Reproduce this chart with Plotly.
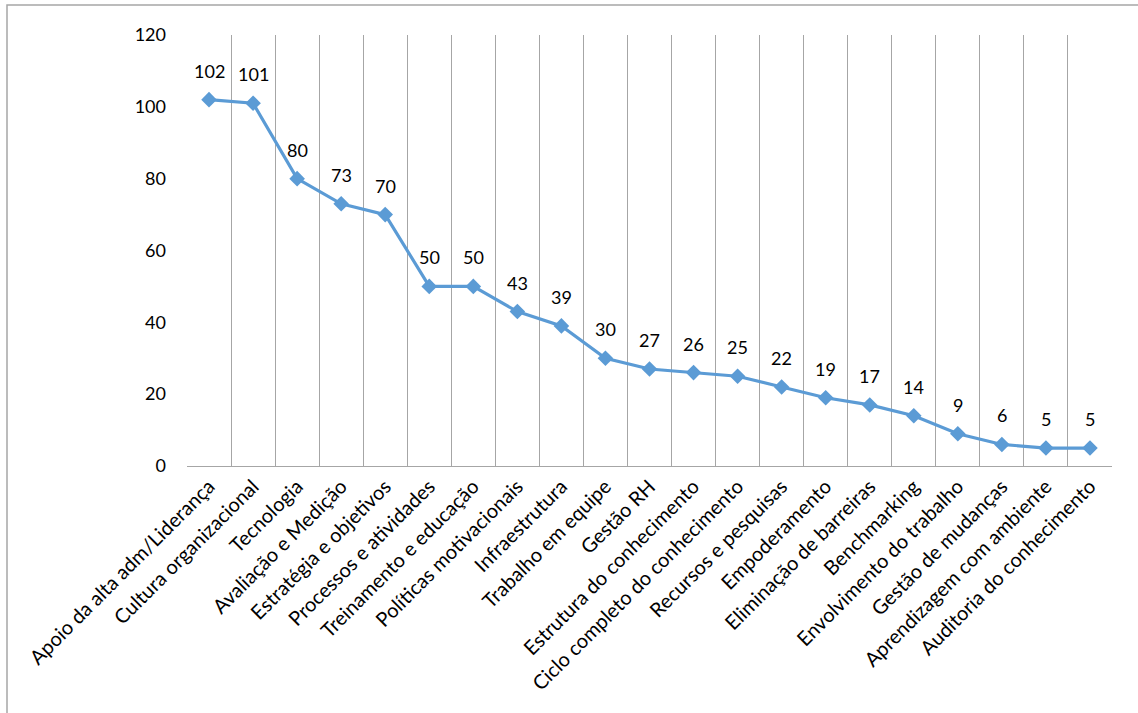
import plotly.graph_objects as go

categories = [
    "Apoio da alta adm/Liderança", "Cultura organizacional", "Tecnologia",
    "Avaliação e Medição", "Estratégia e objetivos", "Processos e atividades",
    "Treinamento e educação", "Políticas motivacionais", "Infraestrutura",
    "Trabalho em equipe", "Gestão RH", "Estrutura do conhecimento",
    "Ciclo completo do conhecimento", "Recursos e pesquisas", "Empoderamento",
    "Eliminação de barreiras", "Benchmarking", "Envolvimento do trabalho",
    "Gestão de mudanças", "Aprendizagem com ambiente", "Auditoria do conhecimento",
]
values = [102, 101, 80, 73, 70, 50, 50, 43, 39, 30, 27, 26, 25, 22, 19, 17, 14, 9, 6, 5, 5]
y_ticks = [0, 20, 40, 60, 80, 100, 120]

COLOR = "#5B9BD5"
FONT = "Lato"

fig = go.Figure()
fig.add_trace(go.Scatter(
    x=categories, y=values, mode="lines+markers",
    line=dict(color=COLOR, width=3.2),
    marker=dict(symbol="diamond", size=12, color=COLOR),
    showlegend=False, hoverinfo="x+y",
))

for c, v in zip(categories, values):
    fig.add_annotation(x=c, y=v, text=str(v), showarrow=False, yshift=29,
                       font=dict(family=FONT, size=18, color="#000000"))

fig.update_layout(
    width=1138, height=713,
    margin=dict(l=187, r=26, t=35, b=247),
    paper_bgcolor="white", plot_bgcolor="white",
    font=dict(family=FONT, color="#000000"),
)
fig.update_xaxes(
    type="category", tickson="boundaries", range=[-0.5, len(categories) - 0.5],
    showgrid=True, gridcolor="#A6A6A6", gridwidth=1,
    showline=True, linecolor="#A6A6A6", linewidth=1, mirror=False,
    ticks="", tickangle=-45, tickfont=dict(family=FONT, size=20),
    zeroline=False,
)
fig.update_yaxes(
    range=[0, 120], tickvals=y_ticks, showgrid=False, zeroline=False,
    showline=False, ticks="", tickfont=dict(family=FONT, size=18),
    ticklabelstandoff=20,
)
fig.add_shape(type="rect", xref="paper", yref="paper",
              x0=(7 - 187) / 925, x1=(1150 - 187) / 925,
              y0=(466 - 730) / 431, y1=(466 - 5) / 431,
              line=dict(color="#A6A6A6", width=1.5), layer="below")

fig.write_html("out.html")
